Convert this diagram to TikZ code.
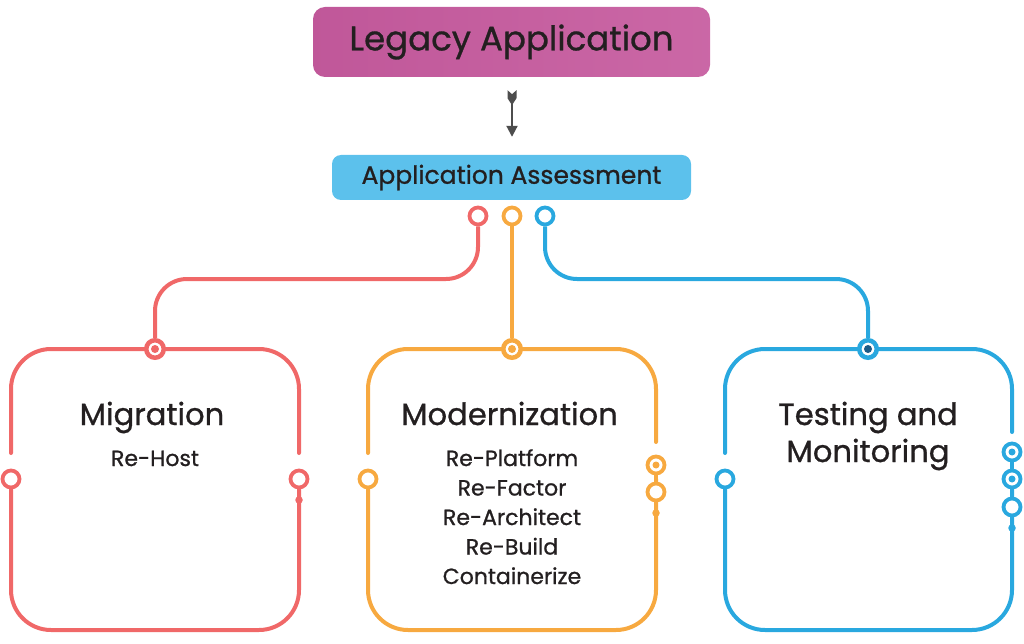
\documentclass[tikz,border=0pt]{standalone}
\usepackage{fontspec}
\setmainfont{Poppins}[FakeBold=0.9]
\usetikzlibrary{arrows.meta}

\definecolor{legacypink}{HTML}{C65A9E}
\definecolor{assessblue}{HTML}{5CC1EC}
\definecolor{migred}{HTML}{F06868}
\definecolor{modorange}{HTML}{F7A940}
\definecolor{testblue}{HTML}{29A8DF}
\definecolor{hubnavy}{HTML}{1C5C88}
\definecolor{inkgray}{HTML}{4D4D4D}
\definecolor{textdark}{HTML}{231F20}

\tikzset{
  wire/.style={draw=#1, line width=4pt, line cap=round},
  link/.style={draw=#1, line width=4pt},
  ring/.style={circle, draw=#1, fill=white, line width=3.8pt, minimum size=17pt, inner sep=0pt},
  dotring/.style={ring=#1, path picture={\fill[#1] (path picture bounding box.center) circle (3.5pt);}},
  hub/.style 2 args={circle, draw=#1, fill=white, line width=4.5pt, minimum size=17.5pt, inner sep=0pt,
    path picture={\fill[#2] (path picture bounding box.center) circle (4pt);}},
  pip/.style={circle, fill=#1, minimum size=7.5pt, inner sep=0pt},
  title/.style={text=textdark, font=\fontsize{30.6}{36}\selectfont, anchor=base},
  item/.style={text=textdark, font=\fontsize{22}{26}\selectfont, anchor=base},
}

\begin{document}
\begin{tikzpicture}[x=1pt, y=-1pt]
\useasboundingbox (0,0) rectangle (1024,644);

% top of the chart
\node[rounded corners=12pt, left color=legacypink!97!black, right color=legacypink!92!white,
      minimum width=397pt, minimum height=70pt, text=textdark,
      font=\fontsize{34}{40}\selectfont] (legacy) at (511.5,42) {Legacy Application};
\node[rounded corners=9pt, fill=assessblue, minimum width=359pt, minimum height=45pt,
      text=textdark, font=\fontsize{25}{30}\selectfont] (assess) at (511.5,177.5) {Application Assessment};
\draw[inkgray, line width=2pt, shorten <=24pt, shorten >=18pt, -{Triangle[length=11pt, width=11pt]}]
  ([xshift=0.5pt]legacy.south) -- ([xshift=0.5pt]assess.north);
% fletching at the tail
\fill[inkgray] ([xshift=0.5pt]legacy.south) ++(0,17) -- ++(-4.5,-4) -- ++(0,8) -- ++(4.5,7)
  -- ++(4.5,-7) -- ++(0,-8) -- cycle;

% the three boxes, open where the side rings sit
\foreach \lx/\rx/\ry/\col in {11/299/453/migred, 368/656/442/modorange, 725/1012/432/testblue} {
  \draw[wire=\col, rounded corners=40pt] (\lx,453) -- (\lx,349) -- (\rx,349) -- (\rx,\ry);
  \draw[wire=\col, rounded corners=40pt] (\lx,479) -- (\lx,630) -- (\rx,630) -- (\rx,479);
}

% ports under the assessment box
\node[ring=migred] (rtop) at (478,216) {};
\node[ring=modorange] (otop) at (512,216) {};
\node[ring=testblue] (btop) at (545,216) {};

% hubs on the box tops
\node[hub={migred}{migred}] (mhub) at (155,349) {};
\node[hub={modorange}{modorange}] (ohub) at (512,349) {};
\node[hub={testblue}{hubnavy}] (thub) at (868,349) {};

% side rings
\node[ring=migred] (mleft) at (11,479) {};
\node[ring=migred] (mright) at (299,479) {};
\node[pip=migred] (mpip) at (299,500) {};
\node[ring=modorange] (oleft) at (368,479) {};
\node[dotring=modorange] (oright1) at (656,465) {};
\node[ring=modorange] (oright2) at (656,492) {};
\node[pip=modorange] (opip) at (656,513) {};
\node[ring=testblue] (tleft) at (725,479) {};
\node[dotring=testblue] (tright1) at (1012,452) {};
\node[dotring=testblue] (tright2) at (1012,479) {};
\node[ring=testblue] (tright3) at (1012,507) {};
\node[pip=testblue] (tpip) at (1012,528) {};
\draw[link=modorange] (oright1.south) -- (oright2.north);
\draw[link=testblue] (tright1.south) -- (tright2.north);
\draw[link=testblue] (tright2.south) -- (tright3.north);

% branches
\coordinate (bus) at (0,279);
\draw[link=migred, rounded corners=32pt] (rtop.south) -- (rtop |- bus) -- (mhub |- bus) -- (mhub.north);
\draw[link=modorange] (otop.south) -- (ohub.north);
\draw[link=testblue, rounded corners=32pt] (btop.south) -- (btop |- bus) -- (thub |- bus) -- (thub.north);

% texts
\node[title] (migtitle) at (152,425) {Migration};
\node[item] (rehost) at (155,466) {Re-Host};
\node[title] (modtitle) at (509.5,425) {Modernization};
\foreach \txt [count=\i from 0] in {Re-Platform, Re-Factor, Re-Architect, Re-Build, Containerize}
  \node[item] (moditem\i) at (512,466+29.5*\i) {\txt};
\node[title] (testtitle) at (868,425) {Testing and};
\node[title] (montitle) at (868,462) {Monitoring};
\end{tikzpicture}
\end{document}
